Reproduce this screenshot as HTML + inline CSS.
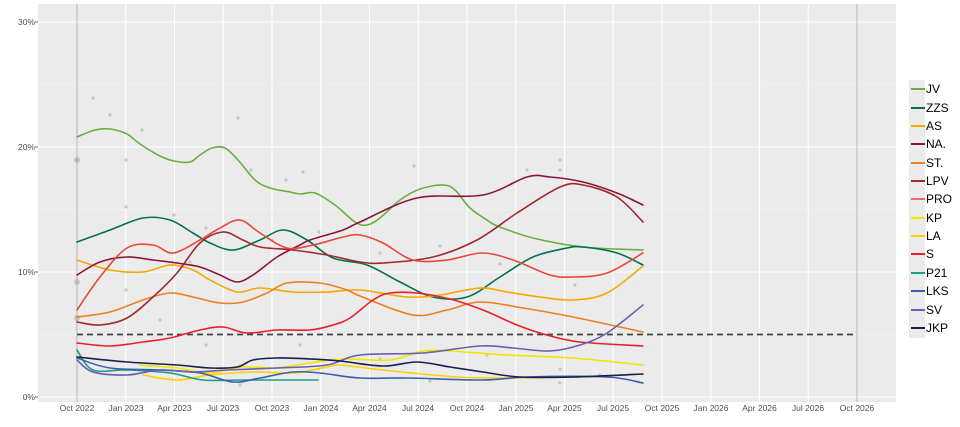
<!DOCTYPE html>
<html><head><meta charset="utf-8"><style>
body{margin:0;background:#fff;}
svg{display:block;font-family:"Liberation Sans",sans-serif;}
</style></head><body>
<svg id="s" width="960" height="427" viewBox="0 0 960 427">
<rect x="38" y="4" width="858" height="398" fill="#ebebeb"/>
<g stroke="#f5f5f5" stroke-width="0.6">
<line x1="38" x2="896" y1="84.5" y2="84.5"/><line x1="38" x2="896" y1="209.5" y2="209.5"/><line x1="38" x2="896" y1="334.5" y2="334.5"/>
</g>
<g stroke="#fff" stroke-width="1.1">
<line x1="38" x2="896" y1="22" y2="22"/><line x1="38" x2="896" y1="147" y2="147"/><line x1="38" x2="896" y1="272" y2="272"/><line x1="38" x2="896" y1="397" y2="397"/>
<line x1="125.75" x2="125.75" y1="4" y2="402"/><line x1="174.5" x2="174.5" y1="4" y2="402"/><line x1="223.25" x2="223.25" y1="4" y2="402"/><line x1="272" x2="272" y1="4" y2="402"/><line x1="320.75" x2="320.75" y1="4" y2="402"/><line x1="369.5" x2="369.5" y1="4" y2="402"/><line x1="418.25" x2="418.25" y1="4" y2="402"/><line x1="467" x2="467" y1="4" y2="402"/><line x1="515.75" x2="515.75" y1="4" y2="402"/><line x1="564.5" x2="564.5" y1="4" y2="402"/><line x1="613.25" x2="613.25" y1="4" y2="402"/><line x1="662" x2="662" y1="4" y2="402"/><line x1="710.75" x2="710.75" y1="4" y2="402"/><line x1="759.5" x2="759.5" y1="4" y2="402"/><line x1="808.25" x2="808.25" y1="4" y2="402"/>
</g>
<g stroke="#b5b5b5" stroke-width="1"><line x1="77" x2="77" y1="4" y2="402"/><line x1="857" x2="857" y1="4" y2="402"/></g>
<line x1="77" x2="857" y1="334.5" y2="334.5" stroke="#444" stroke-width="1.8" stroke-dasharray="6,4"/>
<g fill="#999" opacity="0.45">
<circle cx="93" cy="98" r="1.6"/><circle cx="110" cy="115" r="1.6"/><circle cx="142" cy="130" r="1.6"/><circle cx="126" cy="160" r="1.6"/><circle cx="77" cy="160" r="3"/><circle cx="77" cy="282" r="3"/><circle cx="77" cy="318" r="3"/><circle cx="238" cy="118" r="1.6"/><circle cx="251" cy="170" r="1.6"/><circle cx="286" cy="180" r="1.6"/><circle cx="303" cy="172" r="1.6"/><circle cx="414" cy="166" r="1.6"/><circle cx="527" cy="170" r="1.6"/><circle cx="560" cy="160" r="1.6"/><circle cx="560" cy="170" r="1.6"/><circle cx="126" cy="207" r="1.6"/><circle cx="174" cy="215" r="1.6"/><circle cx="206" cy="228" r="1.6"/><circle cx="190" cy="262" r="1.6"/><circle cx="272" cy="240" r="1.6"/><circle cx="319" cy="232" r="1.6"/><circle cx="380" cy="253" r="1.6"/><circle cx="440" cy="246" r="1.6"/><circle cx="500" cy="264" r="1.6"/><circle cx="575" cy="285" r="1.6"/><circle cx="126" cy="290" r="1.6"/><circle cx="160" cy="320" r="1.6"/><circle cx="206" cy="345" r="1.6"/><circle cx="300" cy="345" r="1.6"/><circle cx="380" cy="359" r="1.6"/><circle cx="487" cy="355" r="1.6"/><circle cx="560" cy="369" r="1.6"/><circle cx="600" cy="375" r="1.6"/><circle cx="126" cy="370" r="1.6"/><circle cx="240" cy="385" r="1.6"/><circle cx="430" cy="381" r="1.6"/><circle cx="560" cy="383" r="1.6"/>
</g>
<g id="ser" fill="none" stroke-width="1.6" stroke-linejoin="round" stroke-linecap="round">
<polyline stroke="#6aaf3d" points="77,137 95,130 110,129 127,134 140,144 160,156 174,161 190,162 200,155 212,148 225,148 238,160 255,180 270,188 290,192 300,194 315,193 335,205 355,222 367,225 380,218 400,200 420,189 443,185 455,190 470,208 490,222 500,227 533,238 583,247 643,250"/>
<polyline stroke="#00734a" points="77,242 110,230 143,218 170,220 193,233 210,243 233,250 260,240 283,230 307,240 333,258 367,265 400,282 433,297 467,297 500,277 533,257 567,248 583,247 617,253 643,265"/>
<polyline stroke="#f5a800" points="77,260 110,270 143,272 170,265 193,270 210,280 237,292 260,288 293,292 327,292 360,290 407,297 440,295 480,288 507,292 540,297 573,300 607,293 643,266"/>
<polyline stroke="#8b1538" points="77,275 100,262 127,257 153,260 177,263 200,267 220,275 237,282 253,275 277,257 300,245 310,240 343,230 360,222 417,198 483,195 527,177 550,177 583,182 617,193 643,205"/>
<polyline stroke="#ee7f1d" points="77,317 110,312 143,300 170,293 193,297 220,303 243,302 267,293 287,283 320,283 347,290 360,296 413,315 447,310 480,302 523,308 573,317 643,332"/>
<polyline stroke="#a0282f" points="77,322 100,325 127,318 153,297 177,273 200,243 223,232 243,240 260,247 293,250 327,255 360,262 383,263 433,257 477,240 517,213 560,187 583,185 617,197 643,222"/>
<polyline stroke="#e8483a" points="77,310 100,277 127,248 153,245 173,253 200,240 220,228 240,220 260,233 287,248 313,245 343,237 360,235 383,243 413,260 447,260 482,253 513,260 550,275 573,277 607,273 643,253"/>
<polyline stroke="#e8202a" points="77,343 110,346 143,342 170,338 200,330 223,327 247,333 277,330 310,330 333,325 350,318 373,300 390,293 417,293 450,299 483,310 517,325 547,335 580,342 643,346"/>
<polyline stroke="#f2e600" points="140,365 177,368 210,373 243,367 277,368 310,363 343,359 390,360 423,351 450,351 507,355 573,358 643,365"/>
<polyline stroke="#ffd000" points="143,375 177,380 210,375 253,372 293,373 327,367 340,365 383,370 457,377 507,378 573,377 643,374"/>
<polyline stroke="#1aa085" points="77,350 93,370 127,370 170,373 203,380 243,380 318,380"/>
<polyline stroke="#3a5fb0" points="77,358 110,368 160,370 200,373 233,382 260,378 293,372 320,373 360,378 407,378 483,380 527,377 607,377 643,383"/>
<polyline stroke="#6b5fb0" points="77,360 93,372 127,375 160,370 193,372 227,370 277,368 327,365 360,355 423,353 480,346 513,348 550,351 580,345 607,333 643,305"/>
<polyline stroke="#1a1f4d" points="77,357 127,362 177,365 210,368 237,367 253,360 277,358 310,359 340,361 383,366 417,362 450,367 483,372 520,377 573,377 643,374"/>
</g>
<g fill="#4d4d4d" font-size="8.5" text-anchor="end">
<text x="35" y="25">30%</text><text x="35" y="150">20%</text><text x="35" y="275">10%</text><text x="35" y="400">0%</text>
</g>
<g stroke="#4d4d4d" stroke-width="0.8"><line x1="35" x2="38" y1="22" y2="22"/><line x1="35" x2="38" y1="147" y2="147"/><line x1="35" x2="38" y1="272" y2="272"/><line x1="35" x2="38" y1="397" y2="397"/></g>
<g fill="#4d4d4d" font-size="8.5" text-anchor="middle">
<text x="77" y="411">Oct 2022</text><text x="126" y="411">Jan 2023</text><text x="174.5" y="411">Apr 2023</text><text x="223" y="411">Jul 2023</text><text x="272" y="411">Oct 2023</text><text x="321" y="411">Jan 2024</text><text x="369.5" y="411">Apr 2024</text><text x="418" y="411">Jul 2024</text><text x="467" y="411">Oct 2024</text><text x="516" y="411">Jan 2025</text><text x="564.5" y="411">Apr 2025</text><text x="613" y="411">Jul 2025</text><text x="662" y="411">Oct 2025</text><text x="711" y="411">Jan 2026</text><text x="759.5" y="411">Apr 2026</text><text x="808" y="411">Jul 2026</text><text x="857" y="411">Oct 2026</text>
</g>
<rect x="909" y="80" width="16" height="258" fill="#ebebeb"/>
<g stroke-width="2">
<line x1="911" x2="925" y1="89" y2="89" stroke="#6aaf3d"/>
<line x1="911" x2="925" y1="108" y2="108" stroke="#00734a"/>
<line x1="911" x2="925" y1="126" y2="126" stroke="#f5a800"/>
<line x1="911" x2="925" y1="144" y2="144" stroke="#8b1538"/>
<line x1="911" x2="925" y1="163" y2="163" stroke="#ee7f1d"/>
<line x1="911" x2="925" y1="181" y2="181" stroke="#a0282f"/>
<line x1="911" x2="925" y1="199" y2="199" stroke="#f26c5a"/>
<line x1="911" x2="925" y1="218" y2="218" stroke="#f2e600"/>
<line x1="911" x2="925" y1="236" y2="236" stroke="#ffd000"/>
<line x1="911" x2="925" y1="254" y2="254" stroke="#e8202a"/>
<line x1="911" x2="925" y1="273" y2="273" stroke="#1aa085"/>
<line x1="911" x2="925" y1="291" y2="291" stroke="#3a5fb0"/>
<line x1="911" x2="925" y1="310" y2="310" stroke="#6b5fb0"/>
<line x1="911" x2="925" y1="328" y2="328" stroke="#1a1f4d"/>
</g>
<g fill="#000" font-size="12">
<text x="926" y="93">JV</text><text x="926" y="112">ZZS</text><text x="926" y="130">AS</text><text x="926" y="148">NA.</text><text x="926" y="167">ST.</text><text x="926" y="185">LPV</text><text x="926" y="203">PRO</text><text x="926" y="222">KP</text><text x="926" y="240">LA</text><text x="926" y="258">S</text><text x="926" y="277">P21</text><text x="926" y="295">LKS</text><text x="926" y="314">SV</text><text x="926" y="332">JKP</text>
</g>
</svg>
<script>
(function(){
var ns="http://www.w3.org/2000/svg";
var pls=document.querySelectorAll("#ser polyline");
for(var i=0;i<pls.length;i++){
var pl=pls[i];
var pts=pl.getAttribute("points").trim().split(/\s+/).map(function(s){var a=s.split(",");return [+a[0],+a[1]];});
var d="M"+pts[0][0]+","+pts[0][1];
for(var k=0;k<pts.length-1;k++){
var p0=pts[k-1]||pts[k],p1=pts[k],p2=pts[k+1],p3=pts[k+2]||p2;
var c1x=p1[0]+(p2[0]-p0[0])/6,c1y=p1[1]+(p2[1]-p0[1])/6;
var c2x=p2[0]-(p3[0]-p1[0])/6,c2y=p2[1]-(p3[1]-p1[1])/6;
d+=" C"+c1x.toFixed(1)+","+c1y.toFixed(1)+" "+c2x.toFixed(1)+","+c2y.toFixed(1)+" "+p2[0]+","+p2[1];
}
var p=document.createElementNS(ns,"path");
p.setAttribute("d",d);p.setAttribute("stroke",pl.getAttribute("stroke"));
pl.parentNode.replaceChild(p,pl);
}
})();
</script>
</body></html>
